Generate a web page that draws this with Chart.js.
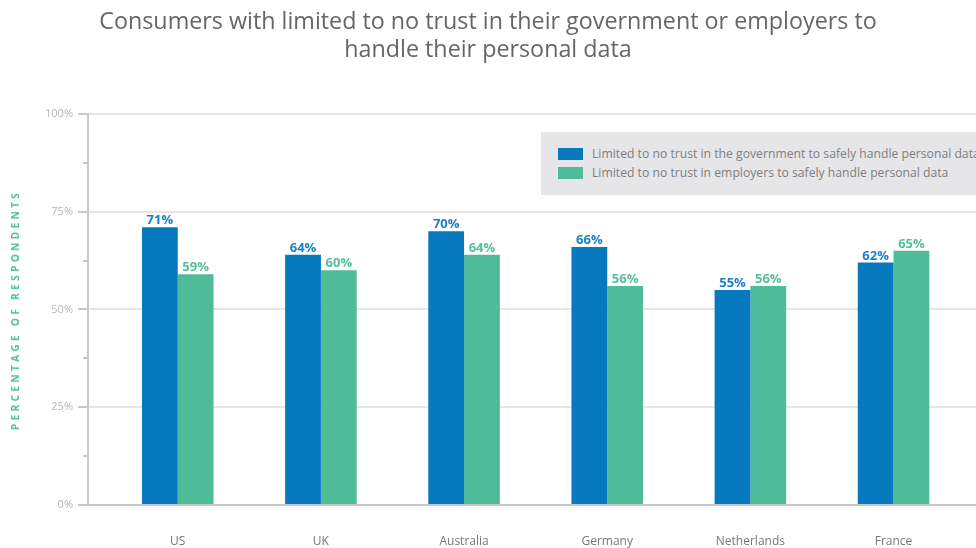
<!DOCTYPE html>
<html>
<head>
<meta charset="utf-8">
<script src="https://cdn.jsdelivr.net/npm/chart.js@4/dist/chart.umd.min.js"></script>
<style>
    html, body {
        margin: 0;
        padding: 0;
        background: #fff;
        overflow: hidden;
    }
    #wrap {
        position: relative;
        width: 976px;
        height: 548px;
        overflow: hidden;
    }
    #y-title {
        position: absolute;
        left: 15px;
        top: 310px;
        transform: translate(-50%, -50%) rotate(-90deg);
        white-space: nowrap;
        font: bold 10px "Open Sans", sans-serif;
        letter-spacing: 3.4px;
        color: #4fbc99;
    }
    #legend {
        position: absolute;
        left: 541px;
        top: 132px;
        width: 600px;
        height: 63px;
        background: #e6e5e8;
        font: 12.2px "Open Sans", sans-serif;
        color: #7f7f7f;
    }
    .legend-item {
        position: absolute;
        left: 17px;
        white-space: nowrap;
        line-height: 14px;
    }
    .legend-item span {
        display: inline-block;
        width: 25px;
        height: 12px;
        margin-right: 9px;
        vertical-align: -2px;
    }
</style>
</head>
<body>
<div id="wrap">
    <canvas id="chart" width="976" height="548"></canvas>
    <div id="y-title">PERCENTAGE OF RESPONDENTS</div>
    <div id="legend"></div>
</div>
<script>
// values
let countries = ['US', 'UK', 'Australia', 'Germany', 'Netherlands', 'France'];
let government = [71, 64, 70, 66, 55, 62];
let employers = [59, 60, 64, 56, 56, 65];
let y_ticks = [0, 25, 50, 75, 100];

let series_names = [
    'Limited to no trust in the government to safely handle personal data',
    'Limited to no trust in employers to safely handle personal data'
];
let colors = ['#0679bf', '#4fbc99'];
let label_colors = ['#1a80c4', '#55bf9c'];

function toPoints(values) {
    return values.map((v, i) => ({ x: i, y: v }));
}

// value labels above each bar
let barLabels = {
    id: 'barLabels',
    afterDatasetsDraw(chart) {
        let ctx = chart.ctx;
        ctx.save();
        ctx.font = 'bold 13px "Open Sans", sans-serif';
        ctx.textAlign = 'center';
        ctx.textBaseline = 'alphabetic';
        chart.data.datasets.forEach((ds, di) => {
            let meta = chart.getDatasetMeta(di);
            ctx.fillStyle = label_colors[di];
            meta.data.forEach((bar, i) => {
                ctx.fillText(ds.data[i].y + '%', bar.x, bar.y - 3);
            });
        });
        ctx.restore();
    }
};

let chart = new Chart(document.getElementById('chart'), {
    type: 'bar',
    data: {
        datasets: [
            {
                label: series_names[0],
                data: toPoints(government),
                backgroundColor: colors[0]
            },
            {
                label: series_names[1],
                data: toPoints(employers),
                backgroundColor: colors[1]
            }
        ]
    },
    options: {
        responsive: false,
        animation: false,
        devicePixelRatio: 1,
        categoryPercentage: 0.5,
        barPercentage: 1,
        layout: {
            padding: { left: 0, right: 0, top: 0, bottom: 0 }
        },
        plugins: {
            legend: { display: false },
            tooltip: { enabled: false },
            title: {
                display: true,
                text: [
                    'Consumers with limited to no trust in their government or employers to',
                    'handle their personal data'
                ],
                color: '#666',
                font: { family: '"Open Sans", sans-serif', size: 23.3, weight: 'normal', lineHeight: 1.2 },
                padding: { top: 8, bottom: 50 }
            }
        },
        scales: {
            x: {
                type: 'linear',
                min: -0.627,
                max: 5.576,
                offset: false,
                grid: { display: false, drawTicks: false },
                border: { display: true, color: '#c8c8c8', width: 2 },
                afterBuildTicks(scale) {
                    scale.ticks = countries.map((c, i) => ({ value: i }));
                },
                afterFit(scale) {
                    scale.height = 43;
                },
                ticks: {
                    padding: 29,
                    color: '#777',
                    font: { family: '"Open Sans", sans-serif', size: 12 },
                    callback: (v) => countries[v]
                }
            },
            y: {
                min: 0,
                max: 100,
                afterFit(scale) {
                    scale.width = 88;
                },
                afterBuildTicks(scale) {
                    let ticks = [];
                    for (let i = 0; i < y_ticks.length; i++) {
                        ticks.push({ value: y_ticks[i] });
                        if (i < y_ticks.length - 1) {
                            ticks.push({ value: (y_ticks[i] + y_ticks[i + 1]) / 2, minor: true });
                        }
                    }
                    scale.ticks = ticks;
                },
                grid: {
                    color: (c) => y_ticks.includes(c.tick.value) ? '#e6e6e6' : 'transparent',
                    lineWidth: 2,
                    tickColor: '#c8c8c8',
                    tickLength: 10,
                    tickWidth: 2,
                    tickBorderDash: (c) => y_ticks.includes(c.tick.value) ? [] : [0, 5, 5, 20]
                },
                border: { display: true, color: '#c8c8c8', width: 2 },
                ticks: {
                    padding: 5,
                    color: '#b5b5b5',
                    font: { family: '"Open Sans", sans-serif', size: 11 },
                    callback: (v) => y_ticks.includes(v) ? v + '%' : ''
                }
            }
        }
    },
    plugins: [barLabels]
});

// html legend built from the datasets
let legend = document.getElementById('legend');
chart.data.datasets.forEach((ds, i) => {
    let item = document.createElement('div');
    item.className = 'legend-item';
    item.style.top = (15 + i * 19) + 'px';
    item.innerHTML = `<span style="background:${ds.backgroundColor}"></span>${ds.label}`;
    legend.appendChild(item);
});
</script>
</body>
</html>
